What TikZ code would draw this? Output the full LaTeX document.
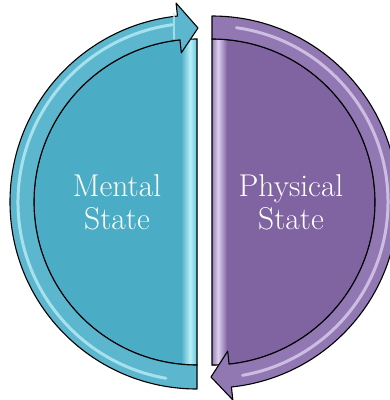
\documentclass[tikz,border=0pt]{standalone}
\usetikzlibrary{calc}
\definecolor{tealfill}{HTML}{4BACC6}
\definecolor{tealband}{HTML}{5CB6CD}
\definecolor{tealhi}{HTML}{B8EEF7}
\definecolor{tealedge}{HTML}{62C8DC}
\definecolor{purpfill}{HTML}{8064A2}
\definecolor{purpband}{HTML}{9178B2}
\definecolor{purphi}{HTML}{DCCFF0}
\begin{document}
\begin{tikzpicture}[x=1pt,y=-1pt,
  halfdisc/.style={draw=black,line width=1.1pt},
  band/.style={draw=black,line width=1.1pt,line join=round},
  gloss/.style={line width=3pt,line cap=round,opacity=0.8},
  statetext/.style={text=white,font=\fontsize{31.5}{33}\selectfont,align=center,inner sep=0pt}]
\useasboundingbox (0,0) rectangle (390,400);
\clip (0,0) rectangle (390,400);
\coordinate (L) at (197,202);
\coordinate (R) at (212,202);
\coordinate (ltip) at (198,28);
\coordinate (rtip) at (211,377);

% ---------- left half (Mental State) ----------
\fill[tealfill] ($(L)+(90:163)$) arc[start angle=90,end angle=270,radius=163] -- cycle;
\shade[left color=tealfill,right color=tealhi] (181,40) rectangle (190,364);
\shade[left color=tealhi,right color=tealedge] (190,39) rectangle (197,365);
\draw[halfdisc] ($(L)+(90:163)$) arc[start angle=90,end angle=270,radius=163] -- cycle;

\draw[band,fill=tealband]
  ($(L)+(90:163)$) -- ($(L)+(90:187)$)
  arc[start angle=90,end angle=264,radius=187]
  -- ($(L)+(264:200)$) -- (ltip) -- ($(L)+(264:150)$) -- ($(L)+(264:163)$)
  arc[start angle=264,end angle=90,radius=163] -- cycle;
\draw[gloss,tealhi] ($(L)+(100:179)$) arc[start angle=100,end angle=262,radius=179];
\draw[line width=2pt,tealhi,opacity=0.7,line cap=round] ($(L)+(263:190)$) -- ($(L)+(262:165)$);

% ---------- right half (Physical State) ----------
\fill[purpfill] ($(R)+(270:163)$) arc[start angle=270,end angle=450,radius=163] -- cycle;
\shade[left color=purphi,right color=purpfill] (218,40) rectangle (227,364);
\shade[left color=purpfill!80!white,right color=purphi] (212,39) rectangle (218,365);
\draw[halfdisc] ($(R)+(270:163)$) arc[start angle=270,end angle=450,radius=163] -- cycle;

\draw[band,fill=purpband]
  ($(R)+(270:163)$) -- ($(R)+(270:186)$)
  arc[start angle=270,end angle=444,radius=186]
  -- ($(R)+(444:199)$) -- (rtip) -- ($(R)+(444:150)$) -- ($(R)+(444:163)$)
  arc[start angle=444,end angle=270,radius=163] -- cycle;
\draw[gloss,purphi] ($(R)+(278:176)$) arc[start angle=278,end angle=440,radius=176];

% ---------- labels ----------
\node[statetext] (mental) at (117,202) {Mental\\State};
\node[statetext] (physical) at (291,202) {Physical\\State};
\end{tikzpicture}
\end{document}
